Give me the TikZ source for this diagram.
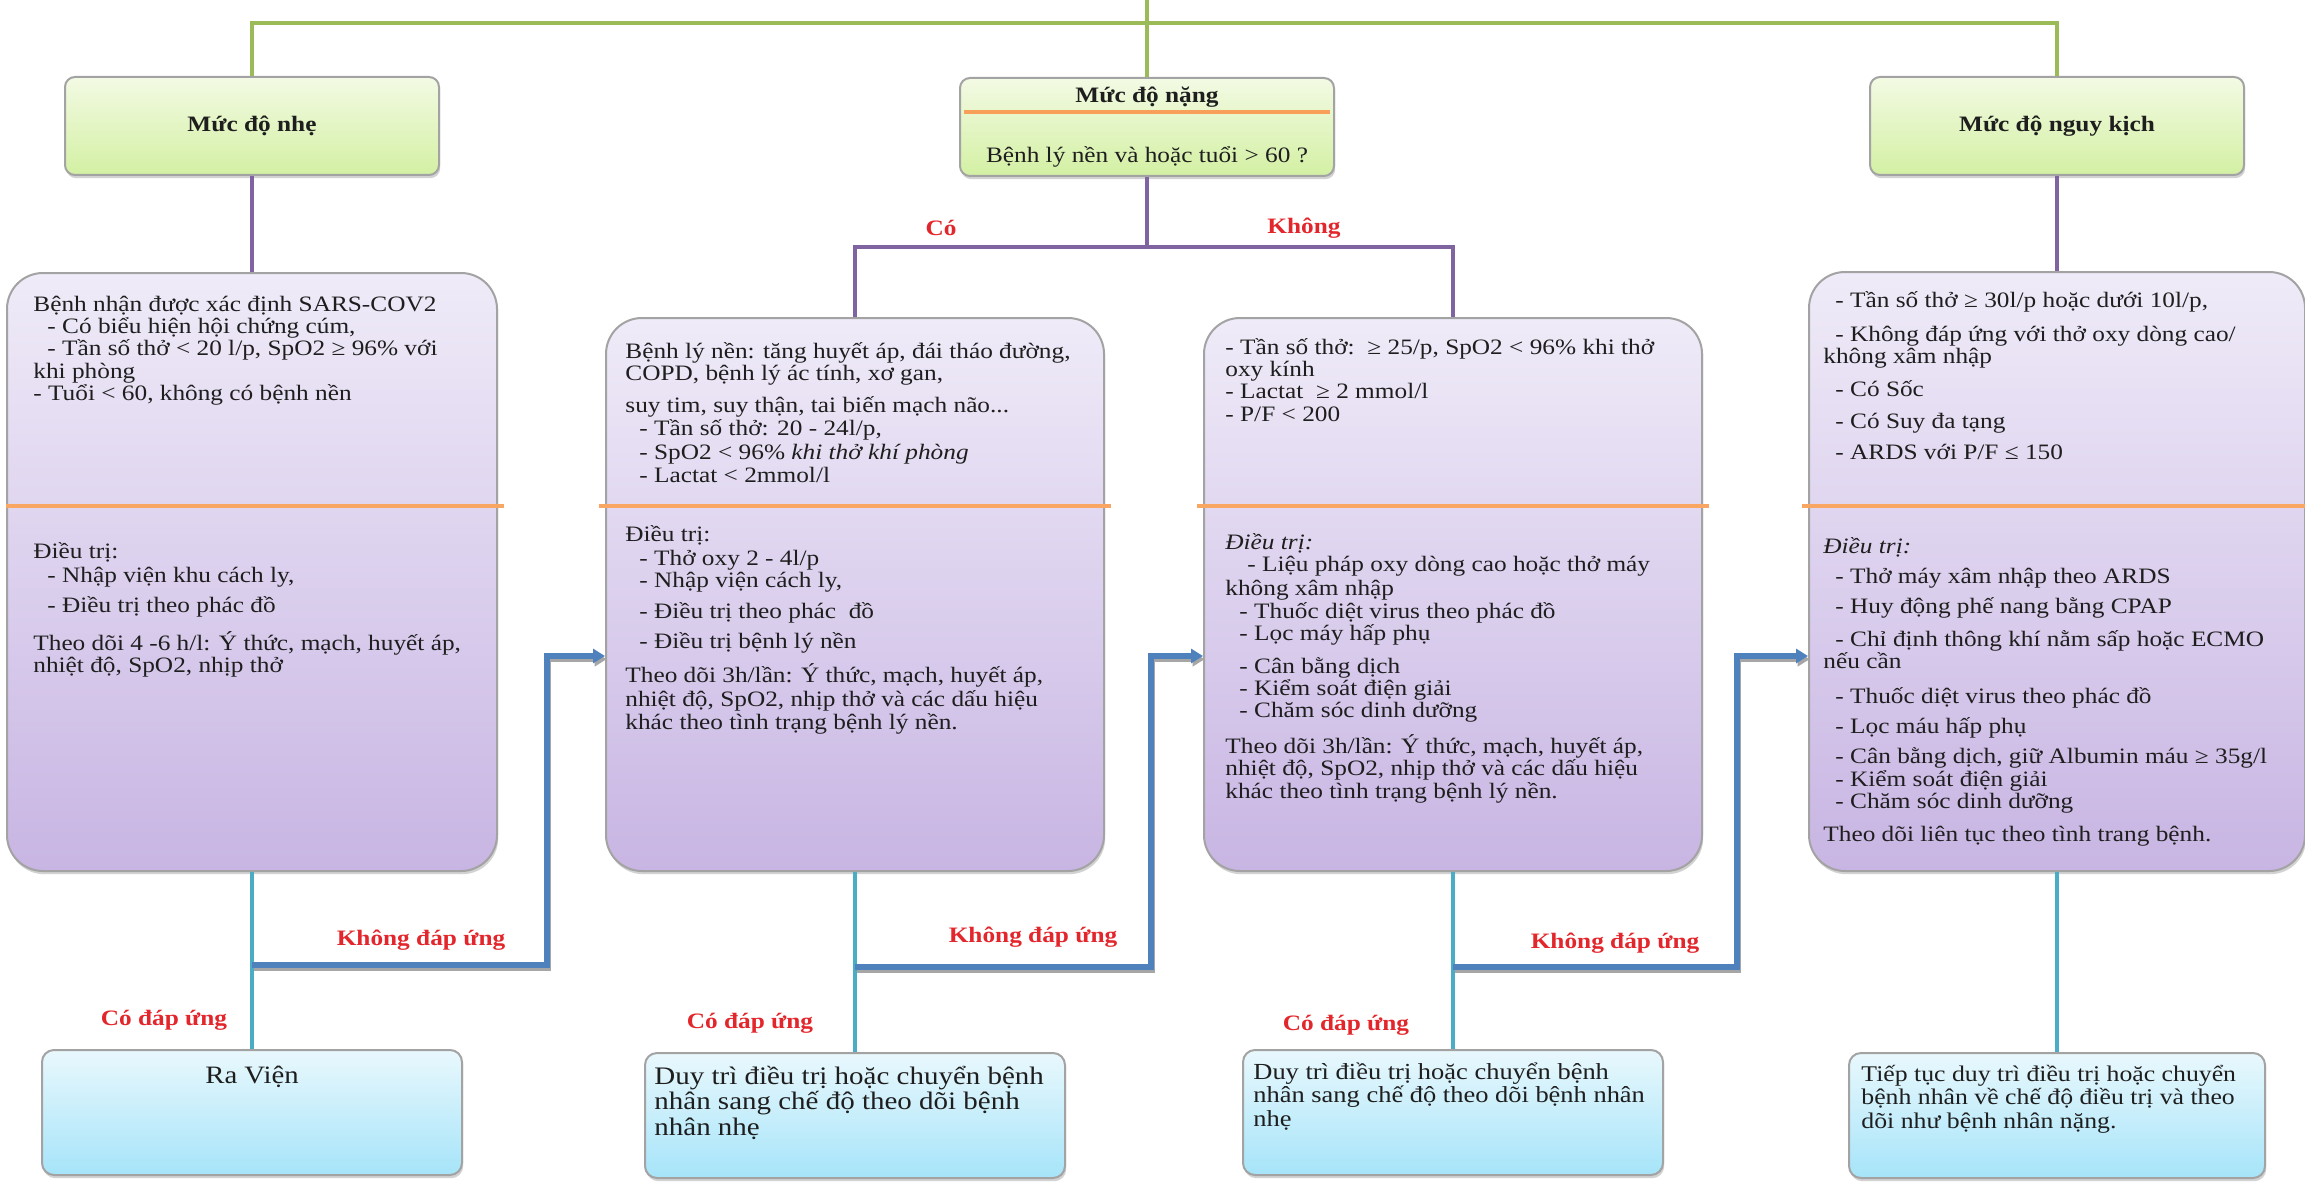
\documentclass[tikz,border=0pt]{standalone}
\usepackage{fontspec}
\setmainfont{Liberation Serif}[FakeStretch=1.15]
\usetikzlibrary{shadows,arrows.meta}

\definecolor{gline}{HTML}{9BBB59}
\definecolor{pline}{HTML}{8064A2}
\definecolor{tline}{HTML}{4BACC6}
\definecolor{bline}{HTML}{4F81BD}
\definecolor{oline}{HTML}{F79646}
\definecolor{lblred}{HTML}{E3262B}
\definecolor{gtop}{HTML}{F3FAE4}
\definecolor{gbot}{HTML}{D3F0A3}
\definecolor{ptop}{HTML}{EFEBF8}
\definecolor{pbot}{HTML}{C8B5E3}
\definecolor{ctop}{HTML}{E9F8FD}
\definecolor{cbot}{HTML}{A6E4F9}
\definecolor{edgegray}{HTML}{A3A3A3}
\definecolor{ink}{HTML}{1E1E1E}

\newcommand{\bodyfont}{\fontsize{11}{11.2}\selectfont}
\newcommand{\dind}{\hspace*{7pt}}
\newcommand{\textblock}[2]{\parbox[t]{#1}{\bodyfont\raggedright #2}}

\begin{document}
\begin{tikzpicture}[x=0.5pt,y=-0.5pt,
  gconn/.style={draw=gline,line width=2pt},
  pconn/.style={draw=pline,line width=2pt},
  tconn/.style={draw=tline,line width=2pt},
  flow/.style={draw=bline,line width=2.6pt,-{Triangle[length=6pt,width=7pt]},
    preaction={draw=black!35,line width=2.6pt,transform canvas={xshift=0.8pt,yshift=-1.6pt}}},
  boxshadow/.style={drop shadow={shadow xshift=0.6pt,shadow yshift=-1.6pt,opacity=0.35}},
  greenbox/.style={draw=edgegray,line width=1pt,rounded corners=5pt,top color=gtop,bottom color=gbot,
    minimum width=187pt,minimum height=49pt,boxshadow},
  purplebox/.style={draw=edgegray,line width=1pt,rounded corners=18pt,top color=ptop,bottom color=pbot,
    minimum width=249pt,boxshadow},
  resultbox/.style={draw=edgegray,line width=1pt,rounded corners=6pt,top color=ctop,bottom color=cbot,
    minimum width=210pt,minimum height=62.5pt,boxshadow},
  divider/.style={draw=oline!85,line width=1.6pt},
  title/.style={inner sep=0,text=ink,font=\bfseries\fontsize{11}{13}\selectfont},
  plain/.style={inner sep=0,text=ink,font=\fontsize{11}{13}\selectfont},
  redlbl/.style={inner sep=0,text=lblred,font=\bfseries\fontsize{11}{13}\selectfont},
  body/.style={anchor=base west,inner sep=0,text=ink},
]
\useasboundingbox (0,0) rectangle (2305,1182);
\fill[white] (0,0) rectangle (2305,1182);

% ---- severity level boxes ----
\node[greenbox] (G1) at (252,126) {};
\node[greenbox] (G2) at (1147,127) {};
\node[greenbox] (G3) at (2057,126) {};
\node[title] (G1t) at (252,126) {Mức độ nhẹ};
\node[title] (G2t) at (1147,97) {Mức độ nặng};
\node[plain] (G2q) at (1147,157) {Bệnh lý nền và hoặc tuổi > 60 ?};
\node[title] (G3t) at (2057,126) {Mức độ nguy kịch};
\coordinate (g2d) at (0,112);
\draw[draw=oline!90,line width=2.4pt] ([xshift=2.5pt]G2.west |- g2d) -- ([xshift=-2.5pt]G2.east |- g2d);

% ---- assessment and treatment boxes ----
\node[purplebox,minimum width=245pt,minimum height=299pt] (P1) at (252,572) {};
\node[purplebox,minimum height=276.5pt] (P2) at (855,594.5) {};
\node[purplebox,minimum height=276.5pt] (P3) at (1453,594.5) {};
\node[purplebox,minimum width=248pt,minimum height=299.5pt] (P4) at (2057,571.5) {};
\coordinate (pd) at (0,506);
\draw[divider] (P1.west |- pd) -- ([xshift=3pt]P1.east |- pd);
\draw[divider] ([xshift=-3pt]P2.west |- pd) -- ([xshift=3pt]P2.east |- pd);
\draw[divider] ([xshift=-3pt]P3.west |- pd) -- ([xshift=3pt]P3.east |- pd);
\draw[divider] ([xshift=-3pt]P4.west |- pd) -- (P4.east |- pd);

% ---- outcome boxes ----
\node[resultbox] (R1) at (252,1112.5) {};
\node[resultbox] (R2) at (855,1115.5) {};
\node[resultbox] (R3) at (1453,1112.5) {};
\node[resultbox,minimum width=208pt] (R4) at (2057,1115.5) {};

% ---- connectors ----
\coordinate (topin) at (1147,0);
\coordinate (gj) at (1147,23);
\draw[gconn] (topin) -- (G2.north);
\draw[gconn] (G1.north) |- (gj) -| (G3.north);

\coordinate (pj) at (1147,247);
\draw[pconn] (G1.south) -- (P1.north);
\draw[pconn] (G2.south) -- (pj);
\draw[pconn] (P2.north) |- (pj) -| (P3.north);
\draw[pconn] (G3.south) -- (P4.north);

\draw[tconn] (P1.south) -- (R1.north);
\draw[tconn] (P2.south) -- (R2.north);
\draw[tconn] (P3.south) -- (R3.north);
\draw[tconn] (P4.south) -- (R4.north);

\coordinate (f1) at (252,965);
\coordinate (k1) at (547,656);
\coordinate (f2) at (855,967);
\coordinate (k2) at (1151,656);
\coordinate (f3) at (1453,967);
\coordinate (k3) at (1737,656);
\draw[flow] (f1) -| (k1) -- (k1 -| P2.west);
\draw[flow] (f2) -| (k2) -- (k2 -| P3.west);
\draw[flow] (f3) -| (k3) -- (k3 -| P4.west);

% ---- branch labels ----
\node[redlbl] (lco) at (941,228) {Có};
\node[redlbl] (lkhong) at (1304,228) {Không};
\node[redlbl] (kdu1) at (421,940) {Không đáp ứng};
\node[redlbl] (kdu2) at (1033,937) {Không đáp ứng};
\node[redlbl] (kdu3) at (1615,943) {Không đáp ứng};
\node[redlbl] (cdu1) at (164,1020) {Có đáp ứng};
\node[redlbl] (cdu2) at (750,1023) {Có đáp ứng};
\node[redlbl] (cdu3) at (1346,1025) {Có đáp ứng};

% ---- box texts: mild ----
\node[body] (P1a) at (33,311) {\textblock{235pt}{%
Bệnh nhận được xác định SARS-COV2\\
\dind- Có biểu hiện hội chứng cúm,\\
\dind- Tần số thở < 20 l/p, SpO2 ≥ 96\% với\\
khi phòng\\
- Tuổi < 60, không có bệnh nền}};
\node[body] (P1b) at (33,558) {\textblock{235pt}{%
Điều trị:\\[1pt]
\dind- Nhập viện khu cách ly,\\[4pt]
\dind- Điều trị theo phác đồ\\[6pt]
Theo dõi 4 -6 h/l: Ý thức, mạch, huyết áp,\\
nhiệt độ, SpO2, nhịp thở}};

% ---- box texts: severe, with comorbidity ----
\node[body] (P2a) at (625,358) {\textblock{240pt}{%
Bệnh lý nền: tăng huyết áp, đái tháo đường,\\
COPD, bệnh lý ác tính, xơ gan,\\[5pt]
suy tim, suy thận, tai biến mạch não...\\
\dind- Tần số thở: 20 - 24l/p,\\[1pt]
\dind- SpO2 < 96\% \textit{khi thở khí phòng}\\
\dind- Lactat < 2mmol/l}};
\node[body] (P2b) at (625,541) {\textblock{240pt}{%
Điều trị:\\[1pt]
\dind- Thở oxy 2 - 4l/p\\
\dind- Nhập viện cách ly,\\[4pt]
\dind- Điều trị theo phác\ \ đồ\\[4pt]
\dind- Điều trị bệnh lý nền\\[4pt]
Theo dõi 3h/lần: Ý thức, mạch, huyết áp,\\[1pt]
nhiệt độ, SpO2, nhịp thở và các dấu hiệu\\
khác theo tình trạng bệnh lý nền.}};

% ---- box texts: severe, without comorbidity ----
\node[body] (P3a) at (1225,354) {\textblock{240pt}{%
- Tần số thở:\ \ ≥ 25/p, SpO2 < 96\% khi thở\\
oxy kính\\
- Lactat\ \ ≥ 2 mmol/l\\
- P/F < 200}};
\node[body] (P3b) at (1225,549) {\textblock{240pt}{%
\textit{Điều trị:}\\
\hspace*{11pt}- Liệu pháp oxy dòng cao hoặc thở máy\\[1pt]
không xâm nhập\\
\dind- Thuốc diệt virus theo phác đồ\\
\dind- Lọc máy hấp phụ\\[5pt]
\dind- Cân bằng dịch\\
\dind- Kiểm soát điện giải\\
\dind- Chăm sóc dinh dưỡng\\[5pt]
Theo dõi 3h/lần: Ý thức, mạch, huyết áp,\\
nhiệt độ, SpO2, nhịp thở và các dấu hiệu\\
khác theo tình trạng bệnh lý nền.}};

% ---- box texts: critical ----
\node[body] (P4a) at (1823,307) {\textblock{240pt}{%
\hspace*{6pt}- Tần số thở ≥ 30l/p hoặc dưới 10l/p,\\[6pt]
\hspace*{6pt}- Không đáp ứng với thở oxy dòng cao/\\
không xâm nhập\\[5pt]
\hspace*{6pt}- Có Sốc\\[5pt]
\hspace*{6pt}- Có Suy đa tạng\\[4pt]
\hspace*{6pt}- ARDS với P/F ≤ 150}};
\node[body] (P4b) at (1823,553) {\textblock{240pt}{%
\textit{Điều trị:}\\[4pt]
\hspace*{6pt}- Thở máy xâm nhập theo ARDS\\[4pt]
\hspace*{6pt}- Huy động phế nang bằng CPAP\\[5pt]
\hspace*{6pt}- Chỉ định thông khí nằm sấp hoặc ECMO\\
nếu cần\\[6pt]
\hspace*{6pt}- Thuốc diệt virus theo phác đồ\\[4pt]
\hspace*{6pt}- Lọc máu hấp phụ\\[4pt]
\hspace*{6pt}- Cân bằng dịch, giữ Albumin máu ≥ 35g/l\\
\hspace*{6pt}- Kiểm soát điện giải\\
\hspace*{6pt}- Chăm sóc dinh dưỡng\\[5pt]
Theo dõi liên tục theo tình trang bệnh.}};

% ---- outcome texts ----
\node[inner sep=0,text=ink,font=\fontsize{12.5}{14}\selectfont] (R1t) at (252,1077) {Ra Viện};
\node[body] (R2t) at (654,1084) {\parbox[t]{205pt}{\fontsize{12.6}{12.8}\selectfont\raggedright
Duy trì điều trị hoặc chuyển bệnh\\
nhân sang chế độ theo dõi bệnh\\
nhân nhẹ}};
\node[body] (R3t) at (1253,1079) {\parbox[t]{205pt}{\fontsize{11.5}{11.8}\selectfont\raggedright
Duy trì điều trị hoặc chuyển bệnh\\
nhân sang chế độ theo dõi bệnh nhân\\
nhẹ}};
\node[body] (R4t) at (1861,1081) {\parbox[t]{205pt}{\fontsize{11.2}{11.8}\selectfont\raggedright
Tiếp tục duy trì điều trị hoặc chuyển\\
bệnh nhân về chế độ điều trị và theo\\
dõi như bệnh nhân nặng.}};
\end{tikzpicture}
\end{document}
